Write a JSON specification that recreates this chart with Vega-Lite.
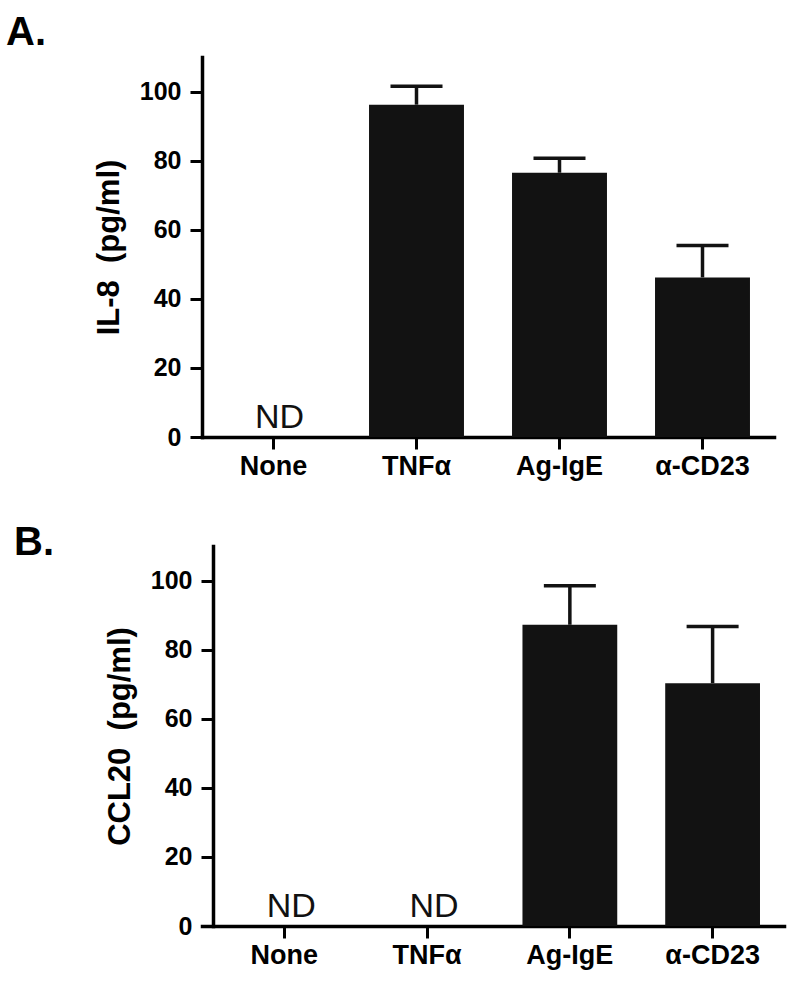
{
  "$schema": "https://vega.github.io/schema/vega-lite/v6.json",
  "background": "white",
  "padding": {"left": 6, "top": 13, "right": 6, "bottom": 6},
  "datasets": {
    "il8": [
      {"group": "None", "value": null, "upper": null, "label": "ND"},
      {"group": "TNFα", "value": 96.2, "upper": 101.5, "label": null},
      {"group": "Ag-IgE", "value": 76.5, "upper": 80.7, "label": null},
      {"group": "α-CD23", "value": 46.2, "upper": 55.4, "label": null}
    ],
    "ccl20": [
      {"group": "None", "value": null, "upper": null, "label": "ND"},
      {"group": "TNFα", "value": null, "upper": null, "label": "ND"},
      {"group": "Ag-IgE", "value": 87.2, "upper": 98.5, "label": null},
      {"group": "α-CD23", "value": 70.3, "upper": 86.7, "label": null}
    ]
  },
  "spacing": 44,
  "vconcat": [
    {
      "title": {"text": "A.", "anchor": "start", "frame": "group", "dx": -196, "offset": -28, "baseline": "alphabetic", "fontSize": 40, "fontWeight": "bold", "font": "Liberation Sans", "color": "black"},
      "width": 572,
      "height": 380,
      "data": {"name": "il8"},
      "encoding": {
        "x": {"field": "group", "type": "nominal", "title": null, "scale": {"domain": ["None", "TNFα", "Ag-IgE", "α-CD23"], "paddingInner": 0.336, "paddingOuter": 0.168}}
      },
      "layer": [
        {
          "mark": {"type": "bar", "color": "#121212"},
          "encoding": {"y": {"field": "value", "type": "quantitative", "title": "IL-8\u00a0\u00a0(pg/ml)", "scale": {"domain": [0, 110]}, "axis": {"values": [0, 20, 40, 60, 80, 100]}}}
        },
        {
          "mark": {"type": "rule", "color": "#121212", "strokeWidth": 3.5},
          "encoding": {"y": {"field": "value", "type": "quantitative", "title": "IL-8\u00a0\u00a0(pg/ml)"}, "y2": {"field": "upper"}}
        },
        {
          "mark": {"type": "tick", "orient": "horizontal", "color": "#121212", "size": 52, "thickness": 3.5, "opacity": 1},
          "encoding": {"y": {"field": "upper", "type": "quantitative", "title": "IL-8\u00a0\u00a0(pg/ml)"}}
        },
        {
          "transform": [{"filter": "datum.label != null"}],
          "mark": {"type": "text", "font": "Liberation Sans", "fontSize": 34, "fontWeight": "normal", "color": "#111111", "align": "center", "baseline": "alphabetic", "dx": 6, "dy": -9},
          "encoding": {"y": {"datum": 0, "type": "quantitative", "title": "IL-8\u00a0\u00a0(pg/ml)"}, "text": {"field": "label"}}
        }
      ]
    },
    {
      "title": {"text": "B.", "anchor": "start", "frame": "group", "dx": -188, "offset": -49, "baseline": "alphabetic", "fontSize": 40, "fontWeight": "bold", "font": "Liberation Sans", "color": "black"},
      "width": 582,
      "height": 380,
      "data": {"name": "ccl20"},
      "encoding": {
        "x": {"field": "group", "type": "nominal", "title": null, "scale": {"domain": ["None", "TNFα", "Ag-IgE", "α-CD23"], "paddingInner": 0.336, "paddingOuter": 0.2066, "align": 0.593}}
      },
      "layer": [
        {
          "mark": {"type": "bar", "color": "#121212"},
          "encoding": {"y": {"field": "value", "type": "quantitative", "title": "CCL20\u00a0\u00a0(pg/ml)", "scale": {"domain": [0, 110]}, "axis": {"values": [0, 20, 40, 60, 80, 100], "offset": -11}}}
        },
        {
          "mark": {"type": "rule", "color": "#121212", "strokeWidth": 3.5},
          "encoding": {"y": {"field": "value", "type": "quantitative", "title": "CCL20\u00a0\u00a0(pg/ml)"}, "y2": {"field": "upper"}}
        },
        {
          "mark": {"type": "tick", "orient": "horizontal", "color": "#121212", "size": 52, "thickness": 3.5, "opacity": 1},
          "encoding": {"y": {"field": "upper", "type": "quantitative", "title": "CCL20\u00a0\u00a0(pg/ml)"}}
        },
        {
          "transform": [{"filter": "datum.label != null"}],
          "mark": {"type": "text", "font": "Liberation Sans", "fontSize": 34, "fontWeight": "normal", "color": "#111111", "align": "center", "baseline": "alphabetic", "dx": 7, "dy": -9},
          "encoding": {"y": {"datum": 0, "type": "quantitative", "title": "CCL20\u00a0\u00a0(pg/ml)"}, "text": {"field": "label"}}
        }
      ]
    }
  ],
  "config": {
    "view": {"stroke": null},
    "font": "Liberation Sans",
    "axis": {
      "grid": false,
      "domainColor": "black",
      "domainWidth": 3.5,
      "domainCap": "square",
      "tickColor": "black",
      "tickWidth": 3,
      "tickSize": 12,
      "labelFont": "Liberation Sans",
      "labelFontWeight": "bold",
      "labelColor": "black",
      "labelOverlap": false,
      "titleFont": "Liberation Sans",
      "titleFontWeight": "bold",
      "titleFontSize": 31,
      "titleColor": "black"
    },
    "axisX": {"labelAngle": 0, "labelPadding": 4, "labelFontSize": 27},
    "axisY": {"labelPadding": 9, "titlePadding": 14, "labelFontSize": 25}
  }
}
